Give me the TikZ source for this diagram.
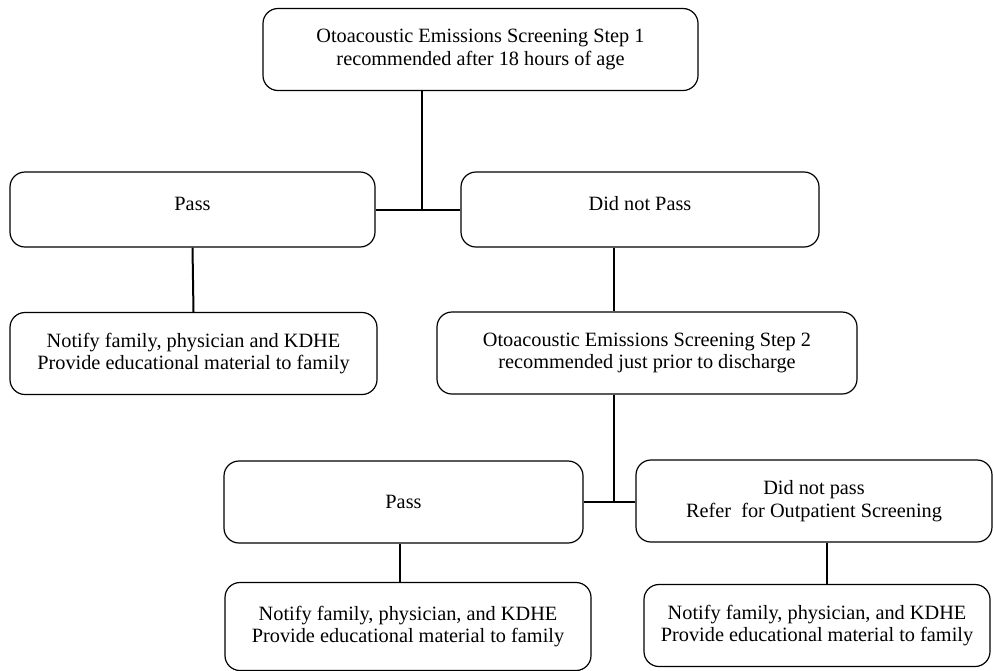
\documentclass[tikz,border=0pt]{standalone}
\usepackage{fontspec}
\setmainfont{Liberation Serif}
\usepackage{tikz}
\usetikzlibrary{positioning,calc}

\begin{document}
\begin{tikzpicture}[x=1pt, y=-1pt,
    box/.style={rectangle, draw, rounded corners=15pt, line width=1.2pt, align=center, minimum height=82pt, inner sep=2pt, font=\fontsize{20.3}{22.5}\selectfont},
    short/.style={box, minimum height=75pt, text depth=12pt},
    link/.style={line width=2pt}
]
    \useasboundingbox (0,0) rectangle (993,670);

    % first screening
    \node[box, minimum width=435pt] (step1) at (480.5,49.5) {Otoacoustic Emissions Screening Step 1\\recommended after 18 hours of age};
    \node[short, minimum width=365pt] (pass1) at (192.5,209.5) {Pass};
    \node[short, minimum width=358pt] (fail1) at (640,209.5) {Did not Pass};
    \node[box, minimum width=367pt] (notify1) at (193.5,353.5) {Notify family, physician and KDHE\\Provide educational material to family};

    % second screening
    \node[box, minimum width=420pt] (step2) at (647,353) {Otoacoustic Emissions Screening Step 2\\recommended just prior to discharge};
    \node[box, minimum width=359pt] (pass2) at (403.5,502) {Pass};
    \node[box, minimum width=356pt] (fail2) at (814,501) {Did not pass\\Refer~~for Outpatient Screening};
    \node[box, minimum width=366pt, minimum height=88pt] (notify2) at (408,626.5) {Notify family, physician, and KDHE\\Provide educational material to family};
    \node[box, minimum width=346pt] (notify3) at (817,625.5) {Notify family, physician, and KDHE\\Provide educational material to family};

    \coordinate (j1) at ($(pass1.east)!0.55!(fail1.west)$);
    \coordinate (j2) at ($(pass2.east)!0.58!(fail2.west)$);

    \draw[link] (pass1.east) -- (fail1.west);
    \draw[link] (step1.south -| j1) -- (j1);
    \draw[link] (pass1.south) -- (notify1.north);
    \draw[link] (fail1.south -| j2) -- (step2.north -| j2);
    \draw[link] (pass2.east) -- (pass2.east -| fail2.west);
    \draw[link] (step2.south -| j2) -- (j2);
    \draw[link] ([xshift=-4pt]pass2.south) -- ([xshift=-4pt]pass2.south |- notify2.north);
    \draw[link] ([xshift=13pt]fail2.south) -- ([xshift=13pt]fail2.south |- notify3.north);
\end{tikzpicture}
\end{document}
